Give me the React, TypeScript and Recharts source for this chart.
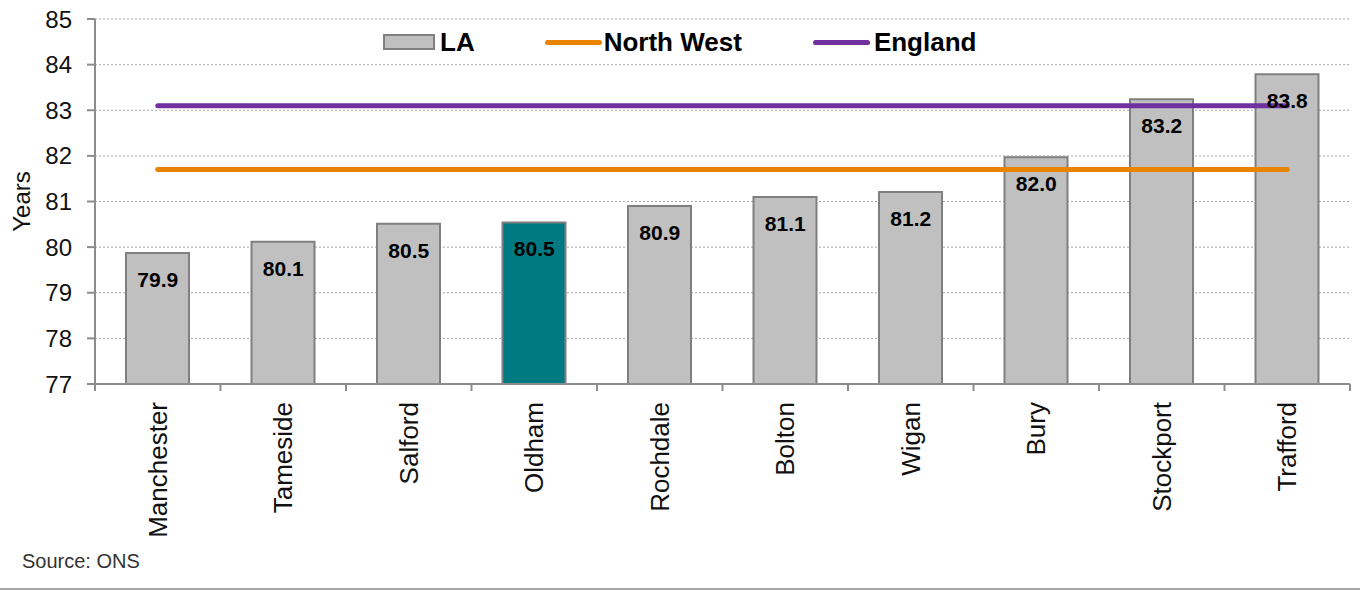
import React from 'react'
import {
  ComposedChart,
  Bar,
  Line,
  Cell,
  XAxis,
  YAxis,
  CartesianGrid,
  LabelList,
  Text,
} from 'recharts'

const categories = ['Manchester', 'Tameside', 'Salford', 'Oldham', 'Rochdale', 'Bolton', 'Wigan', 'Bury', 'Stockport', 'Trafford']
const laValues = [79.87, 80.12, 80.51, 80.54, 80.9, 81.1, 81.21, 81.97, 83.24, 83.79]
const northWestValues = [81.7, 81.7, 81.7, 81.7, 81.7, 81.7, 81.7, 81.7, 81.7, 81.7]
const englandValues = [83.1, 83.1, 83.1, 83.1, 83.1, 83.1, 83.1, 83.1, 83.1, 83.1]
const yTicks = [77, 78, 79, 80, 81, 82, 83, 84, 85]
const highlight = 'Oldham'

const FONT = '"Liberation Sans", Arial, sans-serif'
const AXIS_GREY = '#8c8c8c'
const BAR_GREY = '#c0c0c0'
const TEAL = '#007a82'
const ORANGE = '#ea8400'
const PURPLE = '#7030a0'
const LABEL_GAP = 18

const data = categories.map((name, i) => ({
  name,
  la: laValues[i],
  nw: northWestValues[i],
  eng: englandValues[i],
}))

// category label plus the tick marks that sit on the category boundaries
const CityTick = ({ x, y, payload, index, width, visibleTicksCount }: any) => {
  const half = width / visibleTicksCount / 2
  const axisY = y - LABEL_GAP
  const isLast = index === visibleTicksCount - 1
  return (
    <g>
      <line x1={x - half} x2={x - half} y1={axisY} y2={axisY + 7} stroke={AXIS_GREY} strokeWidth={2} />
      {isLast && (
        <line x1={x + half} x2={x + half} y1={axisY} y2={axisY + 7} stroke={AXIS_GREY} strokeWidth={2} />
      )}
      <Text
        x={x}
        y={y}
        angle={-90}
        textAnchor="end"
        verticalAnchor="middle"
        fontSize={26}
        fontFamily={FONT}
        fill="#111"
      >
        {payload.value}
      </Text>
    </g>
  )
}

function Legend() {
  const text: React.CSSProperties = { fontSize: 26, fontWeight: 'bold', color: '#000', lineHeight: '26px' }
  const line = (color: string): React.CSSProperties => ({
    width: 57,
    height: 5,
    borderRadius: 3,
    background: color,
    marginRight: 2,
  })
  return (
    <div
      style={{
        position: 'absolute',
        left: 383,
        top: 29,
        display: 'flex',
        alignItems: 'center',
        fontFamily: FONT,
        whiteSpace: 'nowrap',
      }}
    >
      <div style={{ width: 48, height: 12, background: BAR_GREY, border: '2px solid #808080', marginRight: 5 }} />
      <span style={text}>LA</span>
      <div style={{ width: 70 }} />
      <div style={line(ORANGE)} />
      <span style={text}>North West</span>
      <div style={{ width: 71 }} />
      <div style={{ ...line(PURPLE), marginRight: 4 }} />
      <span style={text}>England</span>
    </div>
  )
}

export default function App() {
  return (
    <div style={{ position: 'absolute', left: 0, top: 0, width: 1360, height: 590, background: '#fff', fontFamily: FONT }}>
      <ComposedChart
        width={1360}
        height={590}
        data={data}
        margin={{ top: 19, right: 10, bottom: 0, left: 0 }}
      >
        <CartesianGrid vertical={false} stroke="#a6a6a6" strokeDasharray="2 2" />
        <XAxis
          dataKey="name"
          interval={0}
          tick={<CityTick />}
          tickLine={false}
          tickSize={0}
          tickMargin={LABEL_GAP}
          axisLine={{ stroke: AXIS_GREY, strokeWidth: 2 }}
          height={206}
        />
        <YAxis
          domain={[77, 85]}
          ticks={yTicks}
          interval={0}
          width={95}
          allowDataOverflow
          tick={{ fontSize: 24, fill: '#111', fontFamily: FONT }}
          tickLine={{ stroke: AXIS_GREY, strokeWidth: 2 }}
          tickSize={8}
          tickMargin={15}
          axisLine={{ stroke: AXIS_GREY, strokeWidth: 2 }}
          label={{
            value: 'Years',
            angle: -90,
            position: 'insideLeft',
            offset: 21,
            style: { textAnchor: 'middle', fontSize: 24, fill: '#111', fontFamily: FONT },
          }}
        />
        <Bar dataKey="la" barSize={63} stroke="#7f7f7f" strokeWidth={2} isAnimationActive={false}>
          {data.map((d) => (
            <Cell key={d.name} fill={d.name === highlight ? TEAL : BAR_GREY} />
          ))}
        </Bar>
        <Line
          dataKey="nw"
          stroke={ORANGE}
          strokeWidth={5}
          strokeLinecap="round"
          dot={false}
          activeDot={false}
          isAnimationActive={false}
        />
        <Line
          dataKey="eng"
          stroke={PURPLE}
          strokeWidth={5}
          strokeLinecap="round"
          dot={false}
          activeDot={false}
          isAnimationActive={false}
        />
        {/* invisible series so the value labels sit above the lines */}
        <Line dataKey="la" stroke="none" dot={false} activeDot={false} isAnimationActive={false}>
          <LabelList
            dataKey="la"
            position="bottom"
            offset={19}
            formatter={(v: any) => Number(v).toFixed(1)}
            fill="#000"
            stroke="none"
            style={{ fontSize: 21, fontWeight: 'bold', fontFamily: FONT }}
          />
        </Line>
      </ComposedChart>
      <Legend />
      <div style={{ position: 'absolute', left: 22, top: 550, fontSize: 20, color: '#333', fontFamily: FONT }}>
        Source: ONS
      </div>
      <div style={{ position: 'absolute', left: 0, top: 588, width: 1360, height: 2, background: '#a6a6a6' }} />
    </div>
  )
}
